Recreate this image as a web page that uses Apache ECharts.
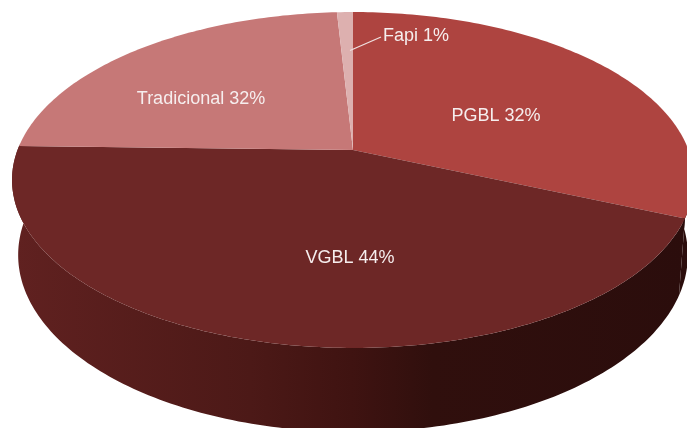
<!DOCTYPE html>
<html>
<head>
<meta charset="utf-8">
<style>
html, body { margin: 0; padding: 0; background: #fff; overflow: hidden; }
#main { width: 687px; height: 428px; }
</style>
</head>
<body>
<div id="main"></div>
<script src="https://cdn.jsdelivr.net/npm/echarts@6/dist/echarts.min.js"></script>
<script>
const categories = ['PGBL', 'VGBL', 'Tradicional', 'Fapi'];
const sliceShares = [31.4, 44, 23.7, 0.9];
const printedPercents = [32, 44, 32, 1];

const topColors = ['#ae4440', '#6d2726', '#c67877', '#ddb0af'];
const labelColor = '#f6eeee';
const labelSpots = [[496, 116], [201, 99], [350, 258], [416, 36]];
labelSpots.splice(1, 2, labelSpots[2], labelSpots[1]); // same order as categories

// tilted disc: apex of the pie and perspective of the ellipse
const apex = { x: 353, y: 150 };
const persp = 0.1786, scaleX = 335.5, scaleY = 162.6;
const rimMid = 180, lowerMid = 255, lowerSx = 0.982, lowerSy = 1.054;

function topPoint(deg) {
  const t = deg * Math.PI / 180;
  const u = Math.sin(t), v = -Math.cos(t);
  const d = 1 - persp * v;
  return [apex.x + scaleX * u / d, apex.y + scaleY * v / d];
}
function lowerPoint(deg) {
  const p = topPoint(deg);
  return [apex.x + (p[0] - apex.x) * lowerSx, lowerMid + (p[1] - rimMid) * lowerSy];
}
function arc(fn, from, to) {
  const pts = [];
  const n = Math.max(2, Math.ceil(Math.abs(to - from)));
  for (let i = 0; i <= n; i++) pts.push(fn(from + (to - from) * i / n));
  return pts;
}

const total = sliceShares.reduce((a, b) => a + b, 0);
let acc = 0;
const sliceRows = sliceShares.map((v, i) => {
  const row = [i, acc / total * 360, (acc + v) / total * 360];
  acc += v;
  return row;
});

const wallFill = new echarts.graphic.LinearGradient(16, 0, 687, 0, [
  { offset: 0, color: '#602120' },
  { offset: 0.35, color: '#4c1917' },
  { offset: 0.5, color: '#3f1311' },
  { offset: 0.62, color: '#300f0d' },
  { offset: 1, color: '#2b0d0c' }
], true);

function renderWall(params, api) {
  const from = Math.max(api.value(1), 90), to = Math.min(api.value(2), 272);
  if (to <= from) return { type: 'group', children: [] };
  const points = arc(topPoint, from, to).concat(arc(lowerPoint, to, from));
  return { type: 'polygon', shape: { points: points }, style: { fill: wallFill } };
}

function renderTop(params, api) {
  const i = api.value(0);
  const points = [[apex.x, apex.y]].concat(arc(topPoint, api.value(1), api.value(2)));
  return { type: 'polygon', shape: { points: points }, style: { fill: topColors[i] } };
}

function renderLabel(params, api) {
  const i = api.value(0);
  const spot = labelSpots[i];
  const children = [{
    type: 'text',
    style: {
      text: categories[i] + ' ' + printedPercents[i] + '%',
      x: spot[0], y: spot[1],
      fill: labelColor,
      font: '18px "Liberation Sans", Arial, sans-serif',
      align: 'center', verticalAlign: 'middle'
    }
  }];
  if (categories[i] === 'Fapi') {
    children.push({
      type: 'line',
      shape: { x1: 350, y1: 50.5, x2: 381, y2: 37 },
      style: { stroke: '#efe0df', lineWidth: 1.3 }
    });
  }
  return { type: 'group', children: children };
}

const chart = echarts.init(document.getElementById('main'), null, { renderer: 'canvas' });
chart.setOption({
  animation: false,
  backgroundColor: '#ffffff',
  series: [
    { type: 'custom', coordinateSystem: 'none', z: 1, data: sliceRows, renderItem: renderWall, silent: true },
    { type: 'custom', coordinateSystem: 'none', z: 2, data: sliceRows, renderItem: renderTop, silent: true },
    { type: 'custom', coordinateSystem: 'none', z: 3, data: sliceRows, renderItem: renderLabel, silent: true }
  ]
});
</script>
</body>
</html>
